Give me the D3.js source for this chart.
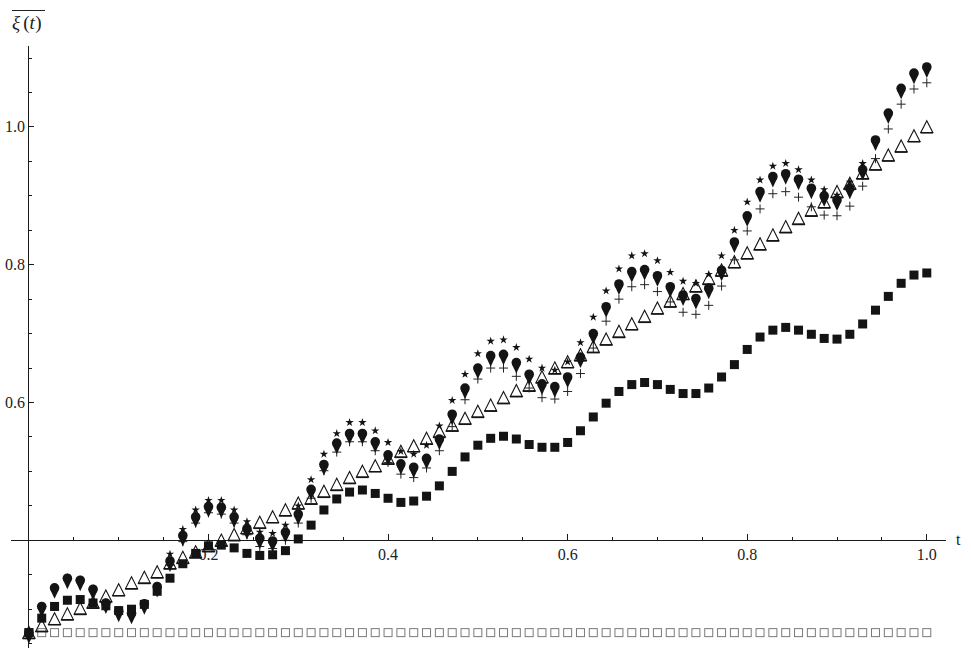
<!DOCTYPE html>
<html>
<head>
<meta charset="utf-8">
<script src="https://cdn.jsdelivr.net/npm/d3@7"></script>
<style>
  html, body { margin: 0; padding: 0; background: #fff; }
  svg { display: block; }
  text { font-family: "Liberation Serif", "DejaVu Serif", serif; fill: #222; }
</style>
</head>
<body>
<svg id="chart" width="971" height="648"></svg>
<script>
// Time grid: 71 samples on [0, 1]
const t = d3.range(71).map(i => i / 70);

// Mean trajectories, one value per sample
const squares = [
  0.266,0.287,0.304,0.313,0.314,0.309,0.305,0.298,0.300,0.307,
  0.326,0.345,0.366,0.381,0.392,0.393,0.389,0.381,0.378,0.379,
  0.385,0.402,0.422,0.444,0.460,0.470,0.473,0.468,0.461,0.455,
  0.457,0.464,0.479,0.500,0.521,0.538,0.548,0.551,0.547,0.539,
  0.535,0.535,0.542,0.559,0.579,0.599,0.616,0.626,0.629,0.626,
  0.619,0.613,0.613,0.621,0.637,0.655,0.677,0.695,0.705,0.709,
  0.705,0.699,0.693,0.692,0.699,0.714,0.734,0.754,0.773,0.785,
  0.788
];
const triangles = [
  0.266,0.276,0.286,0.293,0.301,0.310,0.319,0.328,0.338,0.346,
  0.354,0.367,0.375,0.383,0.392,0.400,0.408,0.418,0.426,0.434,
  0.444,0.454,0.461,0.471,0.481,0.491,0.500,0.508,0.519,0.529,
  0.537,0.548,0.558,0.567,0.577,0.587,0.596,0.607,0.617,0.625,
  0.637,0.650,0.659,0.669,0.681,0.692,0.703,0.714,0.725,0.737,
  0.747,0.758,0.769,0.780,0.792,0.804,0.817,0.830,0.843,0.855,
  0.867,0.879,0.891,0.906,0.918,0.933,0.946,0.959,0.972,0.987,
  1.000
];
const circles = [
  0.266,0.304,0.331,0.345,0.342,0.329,0.309,0.297,0.294,0.308,
  0.333,0.370,0.407,0.434,0.449,0.448,0.434,0.417,0.403,0.399,
  0.412,0.438,0.474,0.510,0.541,0.555,0.555,0.543,0.524,0.511,
  0.506,0.519,0.547,0.583,0.621,0.650,0.668,0.670,0.658,0.641,
  0.627,0.623,0.637,0.666,0.700,0.739,0.772,0.790,0.793,0.784,
  0.768,0.756,0.751,0.766,0.792,0.833,0.871,0.906,0.928,0.932,
  0.924,0.911,0.900,0.894,0.911,0.938,0.981,1.020,1.056,1.078,
  1.087
];
const downTriangles = [
  0.266,0.304,0.331,0.345,0.342,0.329,0.309,0.297,0.294,0.308,
  0.333,0.370,0.407,0.434,0.449,0.448,0.434,0.417,0.403,0.399,
  0.412,0.438,0.474,0.510,0.541,0.555,0.555,0.543,0.524,0.511,
  0.506,0.519,0.547,0.583,0.621,0.650,0.668,0.670,0.658,0.641,
  0.627,0.623,0.637,0.666,0.700,0.739,0.772,0.790,0.793,0.784,
  0.768,0.756,0.751,0.766,0.792,0.833,0.871,0.906,0.928,0.932,
  0.924,0.911,0.900,0.894,0.911,0.938,0.981,1.020,1.056,1.078,
  1.087
];
const stars = [
  0.266,0.304,0.331,0.345,0.342,0.329,0.309,0.297,0.294,0.308,
  0.333,0.380,0.416,0.444,0.458,0.458,0.444,0.427,0.412,0.410,
  0.422,0.450,0.488,0.525,0.555,0.571,0.571,0.559,0.542,0.529,
  0.525,0.538,0.566,0.603,0.641,0.671,0.689,0.691,0.680,0.663,
  0.650,0.647,0.659,0.687,0.724,0.762,0.794,0.813,0.816,0.806,
  0.789,0.776,0.773,0.786,0.813,0.850,0.891,0.923,0.943,0.947,
  0.938,0.923,0.909,0.901,0.920,0.947,0.981,1.020,1.056,1.078,
  1.087
];
const crosses = [
  0.266,0.304,0.331,0.345,0.342,0.329,0.309,0.297,0.294,0.308,
  0.333,0.364,0.398,0.425,0.440,0.438,0.425,0.408,0.391,0.388,
  0.400,0.425,0.461,0.501,0.528,0.543,0.543,0.530,0.513,0.496,
  0.491,0.505,0.530,0.565,0.604,0.634,0.650,0.650,0.638,0.621,
  0.607,0.605,0.616,0.642,0.679,0.718,0.750,0.768,0.771,0.761,
  0.746,0.731,0.728,0.741,0.769,0.807,0.849,0.881,0.903,0.906,
  0.898,0.884,0.872,0.871,0.885,0.914,0.954,0.997,1.033,1.055,
  1.064
];
const openSquares = [
  0.266,0.266,0.266,0.266,0.266,0.266,0.266,0.266,0.266,0.266,
  0.266,0.266,0.266,0.266,0.266,0.266,0.266,0.266,0.266,0.266,
  0.266,0.266,0.266,0.266,0.266,0.266,0.266,0.266,0.266,0.266,
  0.266,0.266,0.266,0.266,0.266,0.266,0.266,0.266,0.266,0.266,
  0.266,0.266,0.266,0.266,0.266,0.266,0.266,0.266,0.266,0.266,
  0.266,0.266,0.266,0.266,0.266,0.266,0.266,0.266,0.266,0.266,
  0.266,0.266,0.266,0.266,0.266,0.266,0.266,0.266,0.266,0.266,
  0.266
];

// Axis ticks
const xMajor = [0.2, 0.4, 0.6, 0.8, 1.0];
const xMajorLabels = ["0.2", "0.4", "0.6", "0.8", "1.0"];
const xMinor = [0.05, 0.1, 0.15, 0.25, 0.3, 0.35, 0.45, 0.5, 0.55, 0.65, 0.7, 0.75, 0.85, 0.9, 0.95];
const yMajor = [0.6, 0.8, 1.0];
const yMajorLabels = ["0.6", "0.8", "1.0"];
const yMinor = [0.25, 0.3, 0.35, 0.45, 0.5, 0.55, 0.65, 0.7, 0.75, 0.85, 0.9, 0.95, 1.05, 1.1];

const svg = d3.select("#chart");
const x = d3.scaleLinear().domain([0, 1]).range([28.9, 926.8]);
const y = d3.scaleLinear().domain([0.4, 1.0]).range([540.3, 126.9]);
const axisY0 = y(0.4);
const axisX0 = x(0);

// Axes lines
const axes = svg.append("g").attr("stroke", "#1a1a1a").attr("stroke-width", 1).attr("shape-rendering", "crispEdges");
axes.append("line").attr("x1", 11).attr("x2", 946).attr("y1", axisY0).attr("y2", axisY0);
axes.append("line").attr("x1", axisX0).attr("x2", axisX0).attr("y1", 46).attr("y2", 648);

// x ticks (pointing up)
axes.selectAll(".xM").data(xMajor).join("line")
  .attr("x1", d => x(d)).attr("x2", d => x(d)).attr("y1", axisY0).attr("y2", axisY0 - 6);
axes.selectAll(".xm").data(xMinor).join("line")
  .attr("x1", d => x(d)).attr("x2", d => x(d)).attr("y1", axisY0).attr("y2", axisY0 - 3.5);
// y ticks (pointing right)
axes.selectAll(".yM").data(yMajor).join("line")
  .attr("x1", axisX0).attr("x2", axisX0 + 5).attr("y1", d => y(d)).attr("y2", d => y(d));
axes.selectAll(".ym").data(yMinor).join("line")
  .attr("x1", axisX0).attr("x2", axisX0 + 3).attr("y1", d => y(d)).attr("y2", d => y(d));

// Tick labels
svg.append("g").selectAll("text").data(xMajor).join("text")
  .attr("x", d => x(d)).attr("y", axisY0 + 20)
  .attr("text-anchor", "middle").attr("font-size", 16)
  .text((d, i) => xMajorLabels[i]);
svg.append("g").selectAll("text").data(yMajor).join("text")
  .attr("x", axisX0 - 4).attr("y", d => y(d)).attr("dy", "0.34em")
  .attr("text-anchor", "end").attr("font-size", 16)
  .text((d, i) => yMajorLabels[i]);

// Axis names
svg.append("text").attr("x", 956).attr("y", axisY0 + 5).attr("font-size", 16).text("t");
const yName = svg.append("text").attr("x", 12).attr("y", 29).attr("font-size", 19);
yName.append("tspan").attr("font-style", "italic").text("ξ");
yName.append("tspan").attr("dx", 3).text("(");
yName.append("tspan").attr("font-style", "italic").text("t");
yName.append("tspan").attr("dx", 0.5).text(")");
svg.append("line").attr("x1", 12).attr("x2", 45).attr("y1", 10.5).attr("y2", 10.5)
  .attr("stroke", "#222").attr("stroke-width", 1);

const ink = "#141414";
const marks = svg.append("g");

// Open squares (constant level)
marks.append("g").selectAll("rect").data(openSquares).join("rect")
  .attr("x", (d, i) => x(t[i]) - 4).attr("y", d => y(d) - 4)
  .attr("width", 8).attr("height", 8)
  .attr("fill", "none").attr("stroke", "#7a7a7a").attr("stroke-width", 1);

// Filled squares
marks.append("g").selectAll("rect").data(squares).join("rect")
  .attr("x", (d, i) => x(t[i]) - 4.5).attr("y", d => y(d) - 4.5)
  .attr("width", 9).attr("height", 9).attr("fill", ink);

// Open triangles
const triG = marks.append("g").selectAll("g").data(triangles).join("g")
  .attr("transform", (d, i) => `translate(${x(t[i])},${y(d)})`);
triG.append("path").attr("d", "M0,-6.2L6,5.6L-6,5.6Z")
  .attr("fill", "none").attr("stroke", ink).attr("stroke-width", 1.1).attr("stroke-linejoin", "miter");
triG.append("line").attr("x1", -6.3).attr("x2", 6.3).attr("y1", 5.9).attr("y2", 5.9)
  .attr("stroke", ink).attr("stroke-width", 1.6);

// Crosses
marks.append("g").selectAll("path").data(crosses).join("path")
  .attr("transform", (d, i) => `translate(${x(t[i])},${y(d)})`)
  .attr("d", "M-4.5,0H4.5M0,-4.5V4.5")
  .attr("stroke", "#222").attr("stroke-width", 1).attr("fill", "none");

// Stars
const star = d3.symbol().type(d3.symbolStar).size(22);
marks.append("g").selectAll("path").data(stars).join("path")
  .attr("transform", (d, i) => `translate(${x(t[i])},${y(d)})`)
  .attr("d", star).attr("fill", ink);

// Filled down-pointing triangles
marks.append("g").selectAll("path").data(downTriangles).join("path")
  .attr("transform", (d, i) => `translate(${x(t[i])},${y(d)})`)
  .attr("d", "M-4.4,1.6L4.4,1.6L0,11Z").attr("fill", ink);

// Filled circles
marks.append("g").selectAll("circle").data(circles).join("circle")
  .attr("cx", (d, i) => x(t[i])).attr("cy", d => y(d)).attr("r", 4.8).attr("fill", ink);
</script>
</body>
</html>
